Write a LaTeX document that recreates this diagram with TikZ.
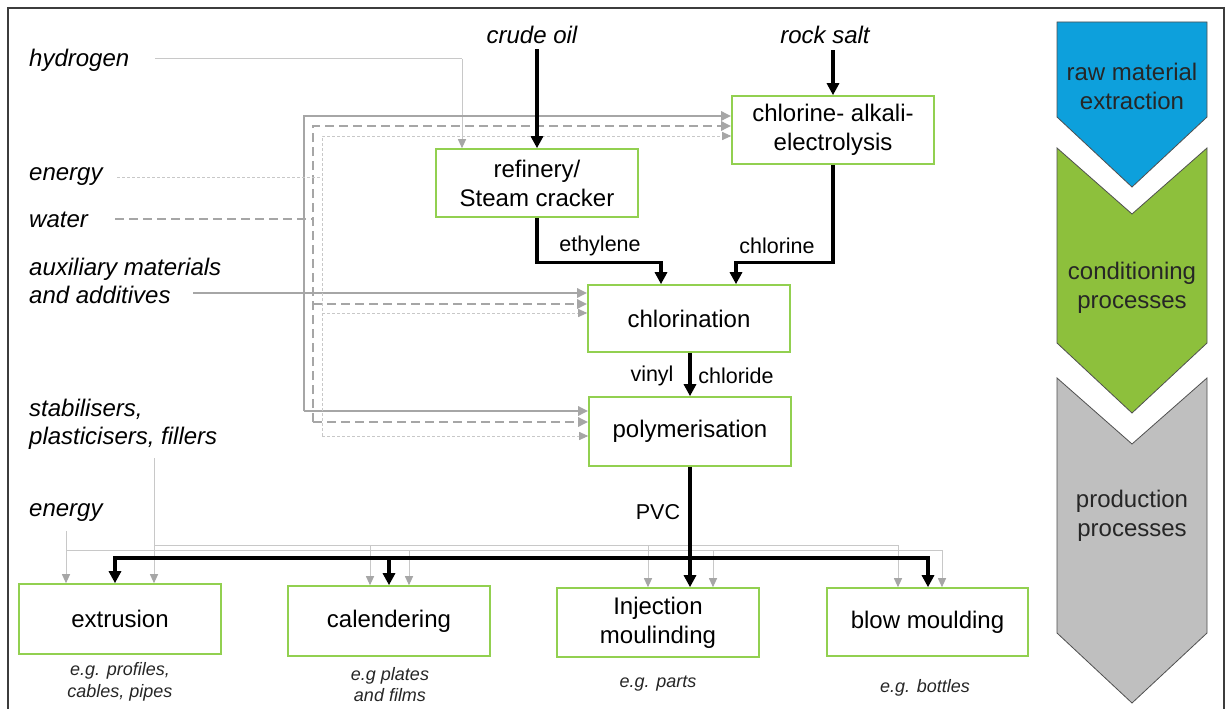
\documentclass[tikz,border=0pt]{standalone}
\usepackage{fontspec}
\setmainfont{Liberation Sans}
\usetikzlibrary{arrows.meta,calc}
\definecolor{boxg}{RGB}{146,208,80}
\definecolor{gA}{RGB}{166,166,166}
\definecolor{gL}{RGB}{200,200,200}
\definecolor{frameC}{RGB}{60,60,60}
\definecolor{chevB}{RGB}{13,160,220}
\definecolor{chevG}{RGB}{141,192,60}
\definecolor{chevY}{RGB}{191,191,191}
\definecolor{chevLine}{RGB}{80,80,80}
\begin{document}
\begin{tikzpicture}[x=1pt,y=-1pt,
  box/.style={draw=boxg, fill=white, line width=1.6pt, minimum width=202pt, minimum height=68pt, align=center, font=\fontsize{24}{29}\selectfont, inner sep=0pt},
  lab/.style={font=\fontsize{24}{28}\selectfont\itshape, align=left, anchor=west, inner sep=0pt},
  toplab/.style={font=\fontsize{24}{28}\selectfont\itshape, inner sep=0pt},
  clab/.style={font=\fontsize{21.5}{24}\selectfont, inner sep=0pt},
  sublab/.style={font=\fontsize{18}{21.5}\selectfont\itshape, align=center, inner sep=0pt, text=black!85},
  chevtext/.style={font=\fontsize{24}{29}\selectfont, align=center, inner sep=0pt, text=black!85},
  blk/.style={line width=3.2pt, line join=miter, -{Triangle[length=12pt,width=12pt]}},
  blkboth/.style={line width=3.2pt, line join=miter, {Triangle[length=12pt,width=12pt]}-{Triangle[length=12pt,width=12pt]}},
  gsol/.style={draw=gA, line width=2.8pt, -{Triangle[length=10pt,width=9pt]}},
  gdash/.style={draw=gA, line width=2.8pt, dash pattern=on 9pt off 5pt, -{Triangle[length=10pt,width=9pt]}},
  gdashplain/.style={draw=gA, line width=2.8pt, dash pattern=on 9pt off 5pt},
  gthin/.style={draw=gL, line width=0.9pt, dash pattern=on 3pt off 2pt, -{Triangle[length=9pt,width=8pt,color=gA]}},
  gthinplain/.style={draw=gL, line width=0.9pt, dash pattern=on 3pt off 2pt},
  gline/.style={draw=gL, line width=1pt, -{Triangle[length=9pt,width=8pt,color=gA]}},
  glineplain/.style={draw=gL, line width=1pt},
  chev/.style={draw=chevLine, line width=0.8pt}
]
\useasboundingbox (0,0) rectangle (1229,709);
\fill[white] (0,0) rectangle (1229,709);
\draw[frameC, line width=1.3pt] (8,712) -- (8,8) -- (1224,8) -- (1224,712);

% ---------- chevrons ----------
\filldraw[chev, fill=chevB] (1057,22) -- (1207,22) -- (1207,117) -- (1132,187) -- (1057,117) -- cycle;
\filldraw[chev, fill=chevG] (1057,148) -- (1132,214) -- (1207,148) -- (1207,343) -- (1132,413) -- (1057,343) -- cycle;
\filldraw[chev, fill=chevY] (1057,378) -- (1132,444) -- (1207,378) -- (1207,633) -- (1132,703) -- (1057,633) -- cycle;
\node[chevtext] (cv1) at (1132,86) {raw material\\extraction};
\node[chevtext] (cv2) at (1132,288) {conditioning\\processes};
\node[chevtext] (cv3) at (1132,516) {production\\processes};

% ---------- nodes ----------
\node[box] (ref) at (537,183) {refinery/\\Steam cracker};
\node[box] (cae) at (833,130) {chlorine- alkali-\\electrolysis};
\node[box, minimum height=67pt] (chl) at (689,318.5) {chlorination};
\node[box, minimum height=69pt] (pol) at (690,431.5) {polymerisation};
\node[box, minimum height=70pt] (ext) at (120,619) {extrusion};
\node[box, minimum height=70pt] (cal) at (389,621) {calendering};
\node[box, minimum height=69pt] (inj) at (658,622.5) {Injection\\moulinding};
\node[box, minimum height=68pt, minimum width=201pt] (blow) at (927.5,622) {blow moulding};

% ---------- input labels ----------
\node[toplab] (crude) at (532,35) {crude oil};
\node[toplab] (rock) at (825,35) {rock salt};
\node[lab] (hyd) at (29,60) {hydrogen};
\node[lab] (en1) at (29,177) {energy};
\node[lab] (wat) at (29,220) {water};
\node[lab] (aux) at (29,281) {auxiliary materials\\and additives};
\node[lab] (stab) at (29,424) {stabilisers,\\plasticisers, fillers};
\node[lab] (en2) at (29,513) {energy};

% ---------- sub labels ----------
\node[sublab] (s1) at (120,682) {e.g. profiles,\\cables, pipes};
\node[sublab] (s2) at (390,684.5) {e.g plates\\and films};
\node[sublab] (s3) at (658,684) {e.g. parts};
\node[sublab] (s4) at (925,688) {e.g. bottles};

% ---------- top grey bundles ----------
\coordinate (hS) at (155,59);
\coordinate (hC) at (462,59);
\draw[glineplain] (hS) -- (hC);
\draw[gline] (hC) -- (hC |- ref.north);

\coordinate (aS) at (193,293);
\coordinate (aT) at (304,116);
\coordinate (aB) at (304,411);
\draw[gsol] (aS) -- (aS -| chl.west);
\draw[gsol] (aB) -- (aT) -- (aT -| cae.west);
\draw[gsol] (aB) -- (aB -| pol.west);

\coordinate (wS) at (115,219);
\coordinate (wT) at (313,126);
\coordinate (wM) at (313,304);
\coordinate (wB) at (313,422);
\draw[gdashplain] (wS) -- (wS -| wT);
\draw[gdash] (wB) -- (wT) -- (wT -| cae.west);
\draw[gdash] (wM) -- (wM -| chl.west);
\draw[gdash] (wB) -- (wB -| pol.west);

\coordinate (nS) at (117,177);
\coordinate (nT) at (322,136);
\coordinate (nM) at (322,313);
\coordinate (nB) at (322,436);
\draw[gthinplain] (nS) -- (nS -| nT);
\draw[gthin] (nB) -- (nT) -- (nT -| cae.west);
\draw[gthin] (nM) -- (nM -| chl.west);
\draw[gthin] (nB) -- (nB -| pol.west);

% ---------- bottom grey lines ----------
\coordinate (eTop) at (66,531);
\coordinate (eL) at (66,550);
\coordinate (eR) at (942,550);
\coordinate (e2) at (409,550);
\coordinate (e3) at (713,550);
\draw[gline] (eTop) -- (eTop |- ext.north);
\draw[glineplain] (eL) -- (eR);
\draw[gline] (e2) -- (e2 |- cal.north);
\draw[gline] (e3) -- (e3 |- inj.north);
\draw[gline] (eR) -- (eR |- blow.north);

\coordinate (sTop) at (154,458);
\coordinate (sL) at (154,545);
\coordinate (sR) at (898,545);
\coordinate (s2c) at (370,545);
\coordinate (s3c) at (648,545);
\draw[gline] (sTop) -- (sTop |- ext.north);
\draw[glineplain] (sL) -- (sR);
\draw[gline] (s2c) -- (s2c |- cal.north);
\draw[gline] (s3c) -- (s3c |- inj.north);
\draw[gline] (sR) -- (sR |- blow.north);

% ---------- black material flow ----------
\draw[blk] ([yshift=-5pt]crude.south -| ref.north) -- (ref.north);
\draw[blk] ([yshift=-6pt]rock.south -| cae.north) -- (cae.north);
\coordinate (ethE) at ($(chl.north)+(-28,0)$);
\coordinate (chlE) at ($(chl.north)+(47,0)$);
\draw[blk] (ref.south) |- ($(ethE)+(0,-22)$) -- (ethE);
\draw[blk] (cae.south) |- ($(chlE)+(0,-22)$) -- (chlE);
\node[clab] (lEth) at (600,246) {ethylene};
\node[clab] (lChl) at (777,246) {chlorine};
\draw[blk] (chl.south -| pol.north) -- (pol.north);
\node[clab] (lVin) at (652,376) {vinyl};
\node[clab] (lChd) at (736,376) {chloride};
\draw[blk] (pol.south) -- (pol.south |- inj.north);
\node[clab] (lPVC) at (658,512) {PVC};
\coordinate (bL) at (115,558);
\coordinate (bR) at (928,558);
\coordinate (bC) at (389,558);
\draw[blkboth] (bL |- ext.north) -- (bL) -- (bR) -- (bR |- blow.north);
\draw[blk] (bC) -- (bC |- cal.north);
\end{tikzpicture}
\end{document}
